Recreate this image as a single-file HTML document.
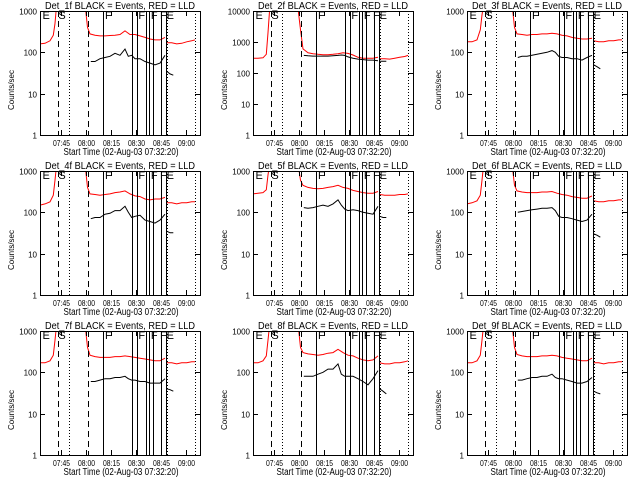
<!DOCTYPE html>
<html><head><meta charset="utf-8"><style>
body{margin:0;background:#fff}
svg{display:block;font-family:"Liberation Sans",sans-serif}
</style></head><body>
<svg id="c" width="640" height="480" viewBox="0 0 640 480"></svg>
<script>
const panelNames=["Det_1f","Det_2f","Det_3f","Det_4f","Det_5f","Det_6f","Det_7f","Det_8f","Det_9f"];
const yMaxDecade=[3,4,3,3,3,3,3,3,3];
const xTickLabels=["07:45","08:00","08:15","08:30","08:45","09:00"];
const xTickMinutes=[12.67,27.67,42.67,57.67,72.67,87.67];
const redT=[0,3,6,8,9,10,27,28.5,30,33,36,39,42,45,48,51,54,57,60,63,66,69,72,75,75.5,76,79,82,85,88,91,93];
const blackT=[30.5,33,36,39,42,45,48,51,53,55,57,60,63,66,69,72,75,75.5,76,78,80];
const red1=[160,165,190,260,500,1500,1500,400,280,260,250,250,255,260,270,330,270,270,250,230,210,200,200,230,null,170,170,160,165,180,190,200];
const red2=[300,300,310,400,2000,12000,12000,2500,600,450,420,400,390,390,400,420,450,430,380,320,300,300,300,320,null,290,290,280,300,320,340,370];
const red3=[180,180,200,350,800,1500,1500,400,280,270,260,270,270,280,280,290,280,260,250,230,220,210,210,220,null,190,180,180,190,190,200,200];
const red4=[150,160,180,260,600,1500,1500,400,280,270,260,270,280,300,310,330,280,250,240,210,200,210,210,230,null,170,170,160,170,170,180,180];
const red5=[280,290,300,350,800,1500,1500,600,450,400,380,370,380,400,420,450,400,380,340,320,300,290,290,320,null,270,260,260,260,270,270,280];
const red6=[160,170,190,260,600,1500,1500,450,330,310,300,300,300,310,310,320,290,270,260,240,230,220,220,250,null,190,180,180,190,190,200,200];
const red7=[170,170,190,260,600,1500,1500,400,260,240,230,230,230,240,240,250,240,230,220,210,200,190,190,220,null,170,170,160,170,170,180,180];
const red8=[170,170,190,250,600,1500,1500,400,300,280,270,260,270,290,300,360,300,260,250,220,200,190,200,250,null,170,160,160,170,170,180,190];
const red9=[170,170,190,260,600,1500,1500,400,270,250,240,240,240,250,250,260,250,230,220,210,200,190,190,220,null,170,170,160,170,170,180,180];
const black1=[60,60,70,75,80,95,85,120,80,85,70,70,60,55,50,55,85,null,35,30,28];
const black2=[370,360,350,350,350,350,360,370,380,370,330,300,280,270,260,260,250,null,240,240,240];
const black3=[75,80,80,85,90,95,100,110,100,80,75,75,70,70,65,75,85,null,50,45,40];
const black4=[70,75,75,90,95,110,110,140,100,75,80,85,65,60,55,65,90,null,35,32,32];
const black5=[130,125,130,140,150,140,160,200,150,120,110,115,110,100,95,90,140,null,80,75,75];
const black6=[100,105,110,115,120,125,125,130,110,80,75,75,70,65,60,65,90,null,30,28,25];
const black7=[60,60,65,70,70,75,75,80,70,65,65,60,60,55,55,55,70,null,40,38,35];
const black8=[80,80,80,90,100,120,120,160,90,80,80,80,70,60,50,70,110,null,40,35,30];
const black9=[65,65,70,75,75,80,80,90,75,70,70,65,60,55,55,60,75,null,35,32,30];
const redSeries=[red1,red2,red3,red4,red5,red6,red7,red8,red9];
const blackSeries=[black1,black2,black3,black4,black5,black6,black7,black8,black9];
const markerT=[10.6,17.6,28.6,38,55.4,58,63.4,65.4,68,72.6,75.6,76,93];
const markerStyle=["dash","dot","dash","solid","solid","solid","solid","solid","solid","solid","solid","dot","dot"];
const letterT=[1.5,11,39,59,66.5,72,76];
const letterTxt=["E","S","F","F","F","F","E"];

const NS="http://www.w3.org/2000/svg";
const svg=document.getElementById('c');
function el(tag,attrs,parent,text){const e=document.createElementNS(NS,tag);for(const k in attrs)e.setAttribute(k,attrs[k]);if(text!==undefined)e.textContent=text;(parent||svg).appendChild(e);return e;}
const BX0=40,BX1=200,BY0=11,BY1=135;
function xs(t){return BX0+t*25/15;}
for(let p=0;p<9;p++){
  const ox=Math.round((p%3)*213.33),oy=Math.floor(p/3)*160;
  const dec=yMaxDecade[p];
  const ys=v=>BY1-(Math.log10(v)/dec)*(BY1-BY0);
  const g=el('g',{transform:`translate(${ox},${oy})`});
  
  
  const cp='clip'+p;
  const d=el('defs',{},g);const c=el('clipPath',{id:cp},d);el('rect',{x:BX0,y:BY0,width:BX1-BX0,height:BY1-BY0},c);
  const t=el('text',{x:120,y:9,'font-size':10,'text-anchor':'middle',textLength:150,lengthAdjust:'spacingAndGlyphs'},g,panelNames[p]+" BLACK = Events, RED = LLD");
  
  
  let pts=[],dstr='';
  const red=redSeries[p];
  for(let i=0;i<redT.length;i++){if(red[i]==null){pts=[];continue;}dstr+=(pts.length?'L':'M')+xs(redT[i]).toFixed(1)+','+ys(red[i]).toFixed(1);pts.push(1);}
  const rl=el('path',{d:dstr,fill:'none',stroke:'#f00','stroke-width':1,'clip-path':`url(#${cp})`},g);
  
  
  pts=[];dstr='';
  const blk=blackSeries[p];
  for(let i=0;i<blackT.length;i++){if(blk[i]==null){pts=[];continue;}dstr+=(pts.length?'L':'M')+xs(blackT[i]).toFixed(1)+','+ys(blk[i]).toFixed(1);pts.push(1);}
  const bl=el('path',{d:dstr,fill:'none',stroke:'#000','stroke-width':1,'clip-path':`url(#${cp})`},g);
  
  
  for(let i=0;i<markerT.length;i++){
    const x=Math.round(xs(markerT[i]))+0.5;
    const a={x1:x,x2:x,y1:BY0,y2:BY1,stroke:'#000','stroke-width':1};
    if(markerStyle[i]=='dash')a['stroke-dasharray']='6,4';
    if(markerStyle[i]=='dot')a['stroke-dasharray']='1,2';
    const m=el('line',a,g);
    
    
  }
  for(let i=0;i<letterT.length;i++){
    const lt=el('text',{x:xs(letterT[i]),y:BY0+8,'font-size':11},g,letterTxt[i]);
    
    
  }
  const box=el('rect',{x:BX0+0.5,y:BY0+0.5,width:BX1-BX0,height:BY1-BY0,fill:'none',stroke:'#000'},g);
  
  
  for(let k=0;k<=dec;k++){
    const y=Math.round(ys(Math.pow(10,k)))+0.5;
    el('line',{x1:BX0,x2:BX0+5,y1:y,y2:y,stroke:'#000'},g);
    el('line',{x1:BX1-5,x2:BX1,y1:y,y2:y,stroke:'#000'},g);
    const yl=el('text',{x:BX0-3,y:y+3,'font-size':8,'text-anchor':'end'},g,String(Math.pow(10,k)));
    
    
  }
  for(let k=0;k<xTickMinutes.length;k++){
    const x=Math.round(xs(xTickMinutes[k]))+0.5;
    el('line',{x1:x,x2:x,y1:BY1,y2:BY1-5,stroke:'#000'},g);
    el('line',{x1:x,x2:x,y1:BY0,y2:BY0+5,stroke:'#000'},g);
    const xl=el('text',{x:x,y:146,'font-size':8,'text-anchor':'middle',textLength:17,lengthAdjust:'spacingAndGlyphs'},g,xTickLabels[k]);
    
    
  }
  const xt=el('text',{x:121,y:155,'font-size':10,'text-anchor':'middle',textLength:115,lengthAdjust:'spacingAndGlyphs'},g,"Start Time (02-Aug-03 07:32:20)");
  
  
  const yt=el('text',{x:0,y:0,'font-size':8,'text-anchor':'middle',transform:'translate(14,90) rotate(-90)'},g,"Counts/sec");
  
  
}
</script>
</body></html>
